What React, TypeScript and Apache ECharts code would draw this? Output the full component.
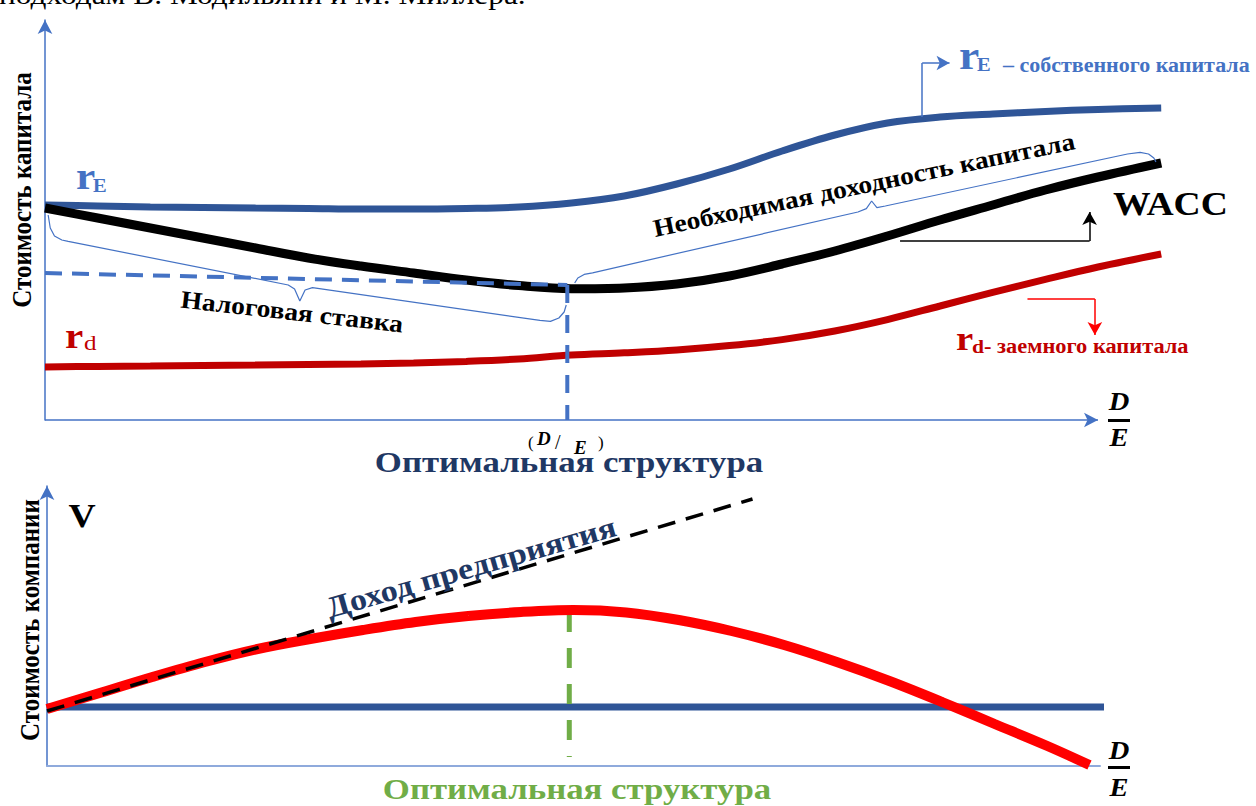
import React, { useEffect, useRef } from "react";
import * as echarts from "echarts";

// ---------- Top panel: cost of capital vs D/E ----------
const topDE = [0, 0.5, 1, 1.5, 2, 2.5, 3, 3.5, 4, 4.5, 5, 5.5, 6, 6.5, 7, 7.5, 8, 8.5, 9, 9.5, 10, 10.6];
const costEquity = [10.75, 10.7, 10.65, 10.63, 10.6, 10.58, 10.55, 10.55, 10.58, 10.65, 10.85, 11.2, 11.8, 12.55, 13.45, 14.25, 14.85, 15.15, 15.3, 15.43, 15.53, 15.6];
const waccValues = [10.6, 10.1, 9.6, 9.1, 8.6, 8.1, 7.7, 7.35, 7.0, 6.72, 6.56, 6.6, 6.8, 7.2, 7.8, 8.45, 9.2, 10.0, 10.75, 11.5, 12.15, 12.85];
const costDebt = [2.65, 2.68, 2.7, 2.73, 2.75, 2.78, 2.8, 2.85, 2.93, 3.05, 3.25, 3.36, 3.5, 3.72, 4.02, 4.45, 5.02, 5.7, 6.38, 7.03, 7.65, 8.3];
const optimalDE = 4.96;
const taxLevelStart = 7.35;
const taxLevelEnd = 6.75;
const deAxisEnd = 10;

// braces (annotation geometry, data units)
const taxBrace = [[0.03, 10.25], [0.05, 9.6], [0.09, 9.2], [0.16, 9.0], [0.22, 8.93], [2.31, 6.75], [2.37, 6.55], [2.42, 5.95], [2.47, 6.5], [2.54, 6.62], [4.7, 4.98], [4.8, 4.93], [4.88, 5.1], [4.93, 5.4], [4.95, 5.75]];
const reqBrace = [[5.03, 6.85], [5.06, 7.1], [5.12, 7.28], [5.2, 7.36], [7.72, 10.4], [7.8, 10.57], [7.85, 10.95], [7.9, 10.62], [7.98, 10.7], [10.28, 13.3], [10.4, 13.38], [10.48, 13.3], [10.53, 13.1], [10.55, 12.9]];

// annotation leader lines (data units)
const reLeader = [[8.33, 15.15], [8.33, 17.85], [8.59, 17.85]];
const waccLeader = [[8.12, 8.95], [9.92, 8.95], [9.92, 10.4]];
const rdLeader = [[9.33, 6.05], [9.97, 6.05], [9.97, 4.25]];

// ---------- Bottom panel: firm value vs D/E ----------
const botDE = [0, 0.5, 1, 1.5, 2, 2.5, 3, 3.5, 4, 4.5, 5, 5.5, 6, 6.5, 7, 7.5, 8, 8.5, 9, 9.5, 9.9];
const firmValue = [2.85, 3.65, 4.45, 5.2, 5.85, 6.35, 6.8, 7.2, 7.5, 7.7, 7.8, 7.68, 7.3, 6.75, 6.05, 5.2, 4.25, 3.2, 2.1, 1.0, 0.05];
const unleveredValue = 2.95;
const unleveredEnd = 10.05;
const incomeLine = [[0, 2.75], [6.7, 13.35]];
const optimalValueTop = 7.7;
const optimalValueBottom = 0.45;

const SERIF = "Liberation Serif";
const SX = 1.14;

function txt(text: string, x: number, y: number, o: any = {}) {
  const style: any = {
    text,
    fontSize: o.size || 20,
    fontWeight: o.weight || "bold",
    fontFamily: SERIF,
    fill: o.color || "#000",
    align: o.align || "left",
    verticalAlign: "middle",
  };
  if (o.italic) style.fontStyle = "italic";
  const el: any = { type: "text", x, y, z: 100, silent: true, style };
  if (o.rot) el.rotation = o.rot;
  const sx = o.sx ?? SX;
  if (sx !== 1) el.scaleX = sx;
  if (o.sy) el.scaleY = o.sy;
  return el;
}

function leader(points: number[][], color: string) {
  return {
    silent: true,
    animation: false,
    symbol: ["none", "none"],
    label: { show: false },
    emphasis: { disabled: true },
    lineStyle: { color, width: 1.5, type: "solid" },
    data: [
      [{ coord: points[0] }, { coord: points[1] }],
      [{ coord: points[1] }, { coord: points[2], symbol: "arrow", symbolSize: [11, 13] }],
    ],
  };
}

export default function App() {
  const ref = useRef<HTMLDivElement>(null);
  const textRef = useRef<HTMLDivElement>(null);
  useEffect(() => {
    if (!ref.current || !textRef.current) return;
    const chart = echarts.init(ref.current, undefined, { renderer: "svg" });
    const labels = echarts.init(textRef.current, undefined, { renderer: "svg" });
    const axisBlue = "#4472C4";
    const hidden = { show: false };
    const line = (name: string, data: any, color: string, width: number, extra: any = {}) => ({
      name,
      type: "line",
      data,
      showSymbol: false,
      symbol: "none",
      silent: true,
      clip: false,
      smooth: extra.smooth ?? 0.35,
      lineStyle: { color, width, type: extra.type || "solid", cap: "butt" },
      xAxisIndex: extra.grid || 0,
      yAxisIndex: extra.grid || 0,
      markLine: extra.markLine,
      z: extra.z || 2,
    });
    const pair = (xs: number[], ys: number[]) => xs.map((x, i) => [x, ys[i]]);

    chart.setOption({
      animation: false,
      backgroundColor: "#fff",
      grid: [
        { left: 45, top: 20, width: 1116.2, height: 400 },
        { left: 47, top: 486, width: 1053, height: 280 },
      ],
      xAxis: [
        {
          type: "value", gridIndex: 0, min: 0, max: 10.6,
          axisLine: { show: false },
          axisTick: hidden, axisLabel: hidden, splitLine: hidden,
        },
        {
          type: "value", gridIndex: 1, min: 0, max: 10,
          axisLine: { show: true, lineStyle: { color: "#8FAADC", width: 2 } },
          axisTick: hidden, axisLabel: hidden, splitLine: hidden,
        },
      ],
      yAxis: [
        {
          type: "value", gridIndex: 0, min: 0, max: 20,
          axisLine: { show: true, lineStyle: { color: axisBlue, width: 1.5 }, symbol: ["none", "arrow"], symbolSize: [11, 14] },
          axisTick: hidden, axisLabel: hidden, splitLine: hidden,
        },
        {
          type: "value", gridIndex: 1, min: 0, max: 14,
          axisLine: { show: true, lineStyle: { color: axisBlue, width: 1.5 }, symbol: ["none", "arrow"], symbolSize: [11, 14] },
          axisTick: hidden, axisLabel: hidden, splitLine: hidden,
        },
      ],
      series: [
        {
          name: "D/E axis", type: "line", data: [], silent: true, xAxisIndex: 0, yAxisIndex: 0,
          markLine: {
            silent: true, animation: false, label: { show: false }, emphasis: { disabled: true },
            symbol: ["none", "arrow"], symbolSize: [11, 14],
            lineStyle: { color: axisBlue, width: 1.5, type: "solid" },
            data: [[{ coord: [0, 0] }, { coord: [deAxisEnd, 0] }]],
          },
        },
        line("rE", pair(topDE, costEquity), "#2F5597", 7, { markLine: leader(reLeader, axisBlue) }),
        line("WACC", pair(topDE, waccValues), "#000000", 9, { markLine: leader(waccLeader, "#000000") }),
        line("rd", pair(topDE, costDebt), "#C00000", 7, { markLine: leader(rdLeader, "#FF0000") }),
        line("tax level", [[0, taxLevelStart], [optimalDE, taxLevelEnd]], axisBlue, 4, { type: [17, 10], smooth: false, z: 3 }),
        line("optimum", [[optimalDE, taxLevelEnd], [optimalDE, 0]], axisBlue, 4, { type: [18, 12], smooth: false, z: 3 }),
        line("tax brace", taxBrace, axisBlue, 1.2, { smooth: false, z: 4 }),
        line("req brace", reqBrace, axisBlue, 1.2, { smooth: false, z: 4 }),
        line("V unlevered", [[0, unleveredValue], [unleveredEnd, unleveredValue]], "#2F5597", 7, { smooth: false, grid: 1, z: 2 }),
        line("optimum V", [[optimalDE, optimalValueTop], [optimalDE, optimalValueBottom]], "#70AD47", 5, { smooth: false, grid: 1, type: [20, 16], z: 3 }),
        line("V levered", pair(botDE, firmValue), "#FF0000", 10, { grid: 1, z: 4 }),
        line("income", incomeLine, "#000000", 3.5, { smooth: false, grid: 1, type: [18, 11], z: 5 }),
      ],
      graphic: [
        { type: "rect", silent: true, shape: { x: 1108, y: 419, width: 22, height: 3 }, style: { fill: "#000" } },
        { type: "rect", silent: true, shape: { x: 1108, y: 766, width: 22, height: 3 }, style: { fill: "#000" } },
      ],
    });

    labels.setOption({
      animation: false,
      graphic: [
        txt("подходам В. Модильяни и М. Миллера.", -1, -5, { size: 28, weight: "normal", sx: 1.12 }),
        txt("Стоимость капитала", 22, 190, { size: 25, rot: Math.PI / 2, align: "center", sx: 1, sy: 1.12 }),
        txt("r", 76, 176, { size: 38, color: axisBlue }),
        txt("E", 93, 186, { size: 18, color: axisBlue }),
        txt("r", 65, 336, { size: 36, color: "#C00000" }),
        txt("d", 84, 343, { size: 22, weight: "normal", color: "#C00000" }),
        txt("r", 959, 55, { size: 40, color: axisBlue }),
        txt("E", 977, 65, { size: 18, color: axisBlue }),
        txt("– собственного капитала", 1003, 65, { size: 20, color: axisBlue, sx: 1.1 }),
        txt("WACC", 1113, 204, { size: 33 }),
        txt("r", 956, 339, { size: 34, color: "#C00000" }),
        txt("d", 972, 346, { size: 19, color: "#C00000" }),
        txt("- заемного капитала", 984, 346, { size: 20, color: "#C00000", sx: 1.12 }),
        txt("Налоговая ставка", 292, 312, { size: 25, rot: -0.112, align: "center", sx: 1.1 }),
        txt("Необходимая доходность капитала", 864, 185, { size: 25, rot: 0.206, align: "center", sx: 1.1 }),
        txt("(", 528, 442, { size: 17, weight: "normal", sx: 1 }),
        txt("D", 537, 438, { size: 19, italic: true, sx: 1 }),
        txt("/", 555, 442, { size: 20, weight: "normal", sx: 1 }),
        txt("E", 574, 447, { size: 19, italic: true, sx: 1 }),
        txt(")", 598, 442, { size: 17, weight: "normal", sx: 1 }),
        txt("Оптимальная структура", 569, 462, { size: 29, align: "center", color: "#1F3864", sx: 1.2 }),
        txt("D", 1119, 402, { size: 25, italic: true, align: "center" }),
        txt("E", 1119, 438, { size: 25, italic: true, align: "center" }),
        txt("V", 82, 516, { size: 33, align: "center" }),
        txt("Стоимость компании", 30, 620, { size: 25, rot: Math.PI / 2, align: "center", sx: 1, sy: 1.12 }),
        txt("Доход предприятия", 471, 567, { size: 30, rot: 0.28, align: "center", color: "#1F3864", sx: 1.14 }),
        txt("Оптимальная структура", 577, 789, { size: 29, align: "center", color: "#70AD47", sx: 1.2 }),
        txt("D", 1119, 751, { size: 25, italic: true, align: "center" }),
        txt("E", 1119, 788, { size: 25, italic: true, align: "center" }),
      ],
    });
    return () => {
      labels.dispose();
      chart.dispose();
    };
  }, []);
  return (
    <div style={{ position: "fixed", left: 0, top: 0, width: 1256, height: 806 }}>
      <div ref={ref} style={{ position: "absolute", left: 0, top: 0, width: 1256, height: 806 }} />
      <div ref={textRef} style={{ position: "absolute", left: 0, top: 0, width: 1256, height: 806, pointerEvents: "none" }} />
    </div>
  );
}
